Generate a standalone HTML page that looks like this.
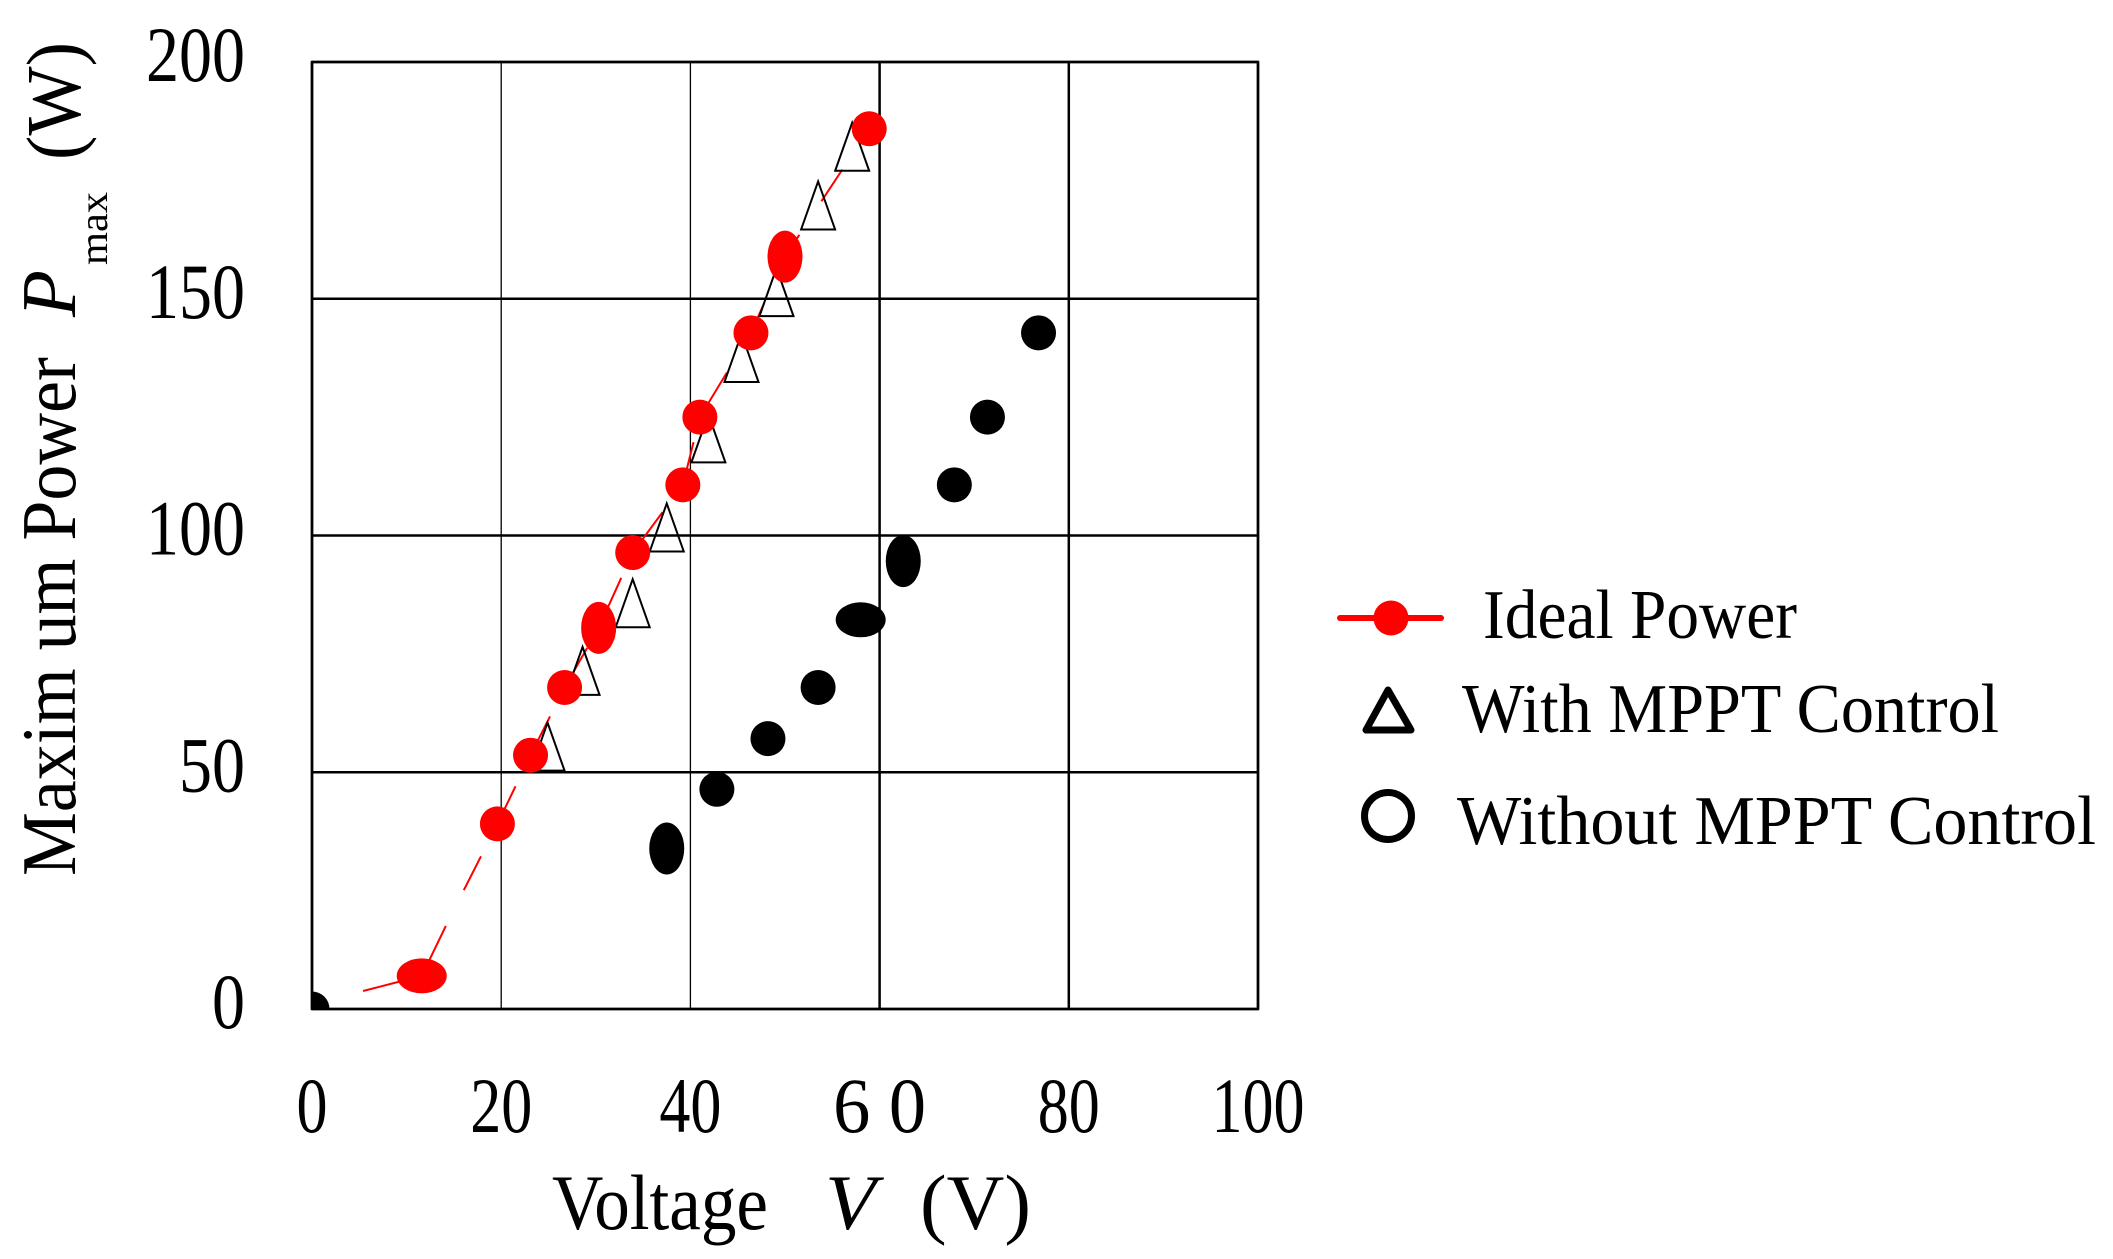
<!DOCTYPE html>
<html><head><meta charset="utf-8"><style>
html,body{margin:0;padding:0;background:#fff;}
svg{display:block;font-family:"Liberation Serif",serif;}
</style></head><body>
<svg id="chart" width="2113" height="1259" viewBox="0 0 2113 1259" xmlns="http://www.w3.org/2000/svg">
<defs><clipPath id="pc"><rect x="312" y="62" width="946" height="947"/></clipPath></defs>
<rect width="2113" height="1259" fill="#fff"/>
<g id="grid"></g>
<g id="ticks" font-size="78"></g>
<g id="marks" clip-path="url(#pc)"></g>
<text y="1229" font-size="78">
<tspan x="552" textLength="216" lengthAdjust="spacingAndGlyphs">Voltage</tspan><tspan x="825" font-style="italic" textLength="51" lengthAdjust="spacingAndGlyphs">V</tspan><tspan x="920" textLength="111" lengthAdjust="spacingAndGlyphs">(V)</tspan>
</text>
<g font-size="77">
<text transform="translate(75,876) rotate(-90)" textLength="519" lengthAdjust="spacingAndGlyphs">Maxim um  Power</text>
<text transform="translate(75,317) rotate(-90)" font-style="italic" textLength="47" lengthAdjust="spacingAndGlyphs">P</text>
<text transform="translate(107,265) rotate(-90)" font-size="40" textLength="73" lengthAdjust="spacingAndGlyphs">max</text>
<text transform="translate(80,160) rotate(-90)" textLength="118" lengthAdjust="spacingAndGlyphs">(W)</text>
</g>
<g font-size="70">
<g>
<line x1="1340" y1="618" x2="1441" y2="618" stroke="#f00" stroke-width="6" stroke-linecap="round"/>
<circle cx="1391" cy="618" r="17.5" fill="#f00"/>
<text x="1483" y="638" textLength="314" lengthAdjust="spacingAndGlyphs">Ideal Power</text>
</g>
<g>
<polygon points="1388,690 1366,730 1411,730" fill="none" stroke="#000" stroke-width="7" stroke-linejoin="round"/>
<text x="1462" y="732" textLength="537" lengthAdjust="spacingAndGlyphs">With MPPT Control</text>
</g>
<g>
<circle cx="1388" cy="816" r="23.5" fill="none" stroke="#000" stroke-width="7"/>
<text x="1457" y="844" textLength="639" lengthAdjust="spacingAndGlyphs">Without  MPPT Control</text>
</g>
</g>
</svg>
<script>
const xTicks = [0, 20, 40, 60, 80, 100];
const xTickLabels = ["0", "20", "40", "6 0", "80", "100"];
const yTicks = [0, 50, 100, 150, 200];
const yTickLabels = ["0", "50", "100", "150", "200"];
const idealV = [11.6, 19.6, 23.1, 26.7, 30.3, 33.9, 39.2, 41.0, 46.4, 50.0, 58.9];
const idealP = [7.0, 39.1, 53.6, 67.9, 80.5, 96.4, 110.7, 125.0, 142.8, 158.9, 185.9];
const lineV = [5.4, 11.6, 14.5, 19.6, 23.1, 26.7, 30.3, 33.9, 39.2, 41.0, 46.4, 50.0, 58.9];
const lineP = [3.8, 7.0, 19.0, 39.1, 53.6, 67.9, 80.5, 96.4, 110.7, 125.0, 142.8, 158.9, 185.9];
const mpptV = [24.9, 28.6, 33.9, 37.5, 41.9, 45.4, 49.1, 53.5, 57.1];
const mpptP = [55.4, 71.4, 85.7, 101.7, 120.5, 137.5, 151.4, 169.7, 182.1];
const noMpptV = [0, 37.5, 42.8, 48.2, 53.5, 58.0, 62.5, 67.9, 71.4, 76.8];
const noMpptP = [0, 33.9, 46.4, 57.1, 67.9, 82.2, 94.6, 110.7, 125.0, 142.8];

const NS = "http://www.w3.org/2000/svg";
const X0 = 312, X1 = 1258, Y0 = 1009, Y1 = 62;
function xs(v){ return X0 + (v - 0) / 100 * (X1 - X0); }
function ys(v){ return Y0 - (v - 0) / 200 * (Y0 - Y1); }
function mk(tag, attrs, parent){ const e = document.createElementNS(NS, tag); for (const k in attrs) e.setAttribute(k, attrs[k]); parent.appendChild(e); return e; }

const grid = document.getElementById('grid');
const ticks = document.getElementById('ticks');
const marks = document.getElementById('marks');

xTicks.forEach((t, i) => {
  const thin = (t === 20 || t === 40);
  const l = mk('line', {x1: xs(t), x2: xs(t), y1: Y1, y2: Y0, stroke: '#000', 'stroke-width': thin ? 1.3 : 2.5}, grid);
  
  
  const lab = xTickLabels[i];
  const tx = mk('text', {x: xs(t), y: 1132, 'text-anchor': 'middle', textLength: lab.length * 31, lengthAdjust: 'spacingAndGlyphs'}, ticks);
  tx.textContent = lab;
  
  
});
yTicks.forEach((t, i) => {
  const l = mk('line', {x1: X0, x2: X1, y1: ys(t), y2: ys(t), stroke: '#000', 'stroke-width': 2.5}, grid);
  
  
  const lab = yTickLabels[i];
  const tx = mk('text', {x: 245, y: ys(t) + 19, 'text-anchor': 'end', textLength: lab.length * 33, lengthAdjust: 'spacingAndGlyphs'}, ticks);
  tx.textContent = lab;
  
  
});

const pl = mk('polyline', {points: lineV.map((v, i) => xs(v) + ',' + ys(lineP[i])).join(' '), fill: 'none', stroke: '#f00', 'stroke-width': 2, 'stroke-dasharray': '38 40'}, marks);



const noWide = [5], noTall = [1, 6];
noMpptV.forEach((v, i) => {
  let rx = 17.5, ry = 17.5;
  if (noWide.includes(i)) { rx = 25; ry = 17.5; }
  if (noTall.includes(i)) { rx = 17.5; ry = 26; }
  const e = mk('ellipse', {cx: xs(v), cy: ys(noMpptP[i]), rx: rx, ry: ry, fill: '#000'}, marks);
  
  
});

mpptV.forEach((v, i) => {
  const cx = xs(v), cy = ys(mpptP[i]), w = 17, h = 24;
  const p = mk('polygon', {points: `${cx},${cy - h} ${cx - w},${cy + h} ${cx + w},${cy + h}`, fill: 'none', stroke: '#000', 'stroke-width': 2}, marks);
  
  
});

const idWide = [0], idTall = [4, 9];
idealV.forEach((v, i) => {
  let rx = 17.5, ry = 17.5;
  if (idWide.includes(i)) { rx = 25; ry = 17.5; }
  if (idTall.includes(i)) { rx = 17.5; ry = 26; }
  const e = mk('ellipse', {cx: xs(v), cy: ys(idealP[i]), rx: rx, ry: ry, fill: '#f00'}, marks);
  
  
});

const fr = mk('rect', {x: X0, y: Y1, width: X1 - X0, height: Y0 - Y1, fill: 'none', stroke: '#000', 'stroke-width': 2.5}, grid);


</script>
</body></html>
